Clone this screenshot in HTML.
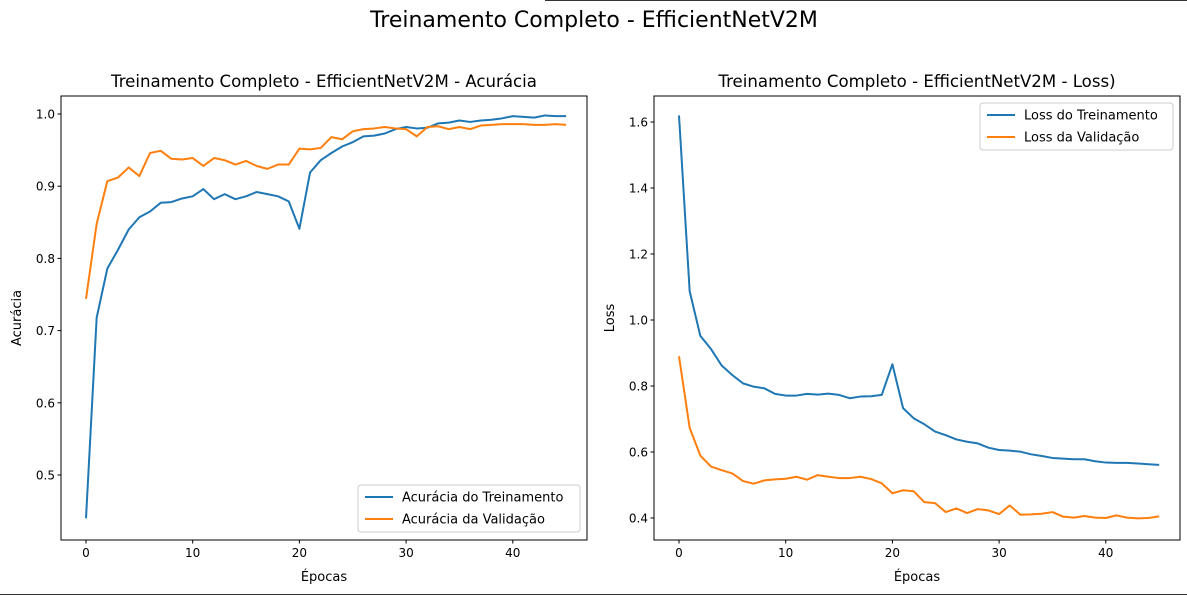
<!DOCTYPE html>
<html><head><meta charset="utf-8"><style>
body{margin:0;background:#fff;width:1187px;height:595px;overflow:hidden}
svg text{font-family:"DejaVu Sans","Liberation Sans",sans-serif;fill:#000}
</style></head><body>
<svg id="c" width="1187" height="595" xmlns="http://www.w3.org/2000/svg">
<line x1="545" y1="0.5" x2="1187" y2="0.5" stroke="#333"/>
<line x1="0" y1="594.5" x2="1187" y2="594.5" stroke="#333"/>
<text x="594" y="27" font-size="22" text-anchor="middle">Treinamento Completo - EfficientNetV2M</text>
</svg>
<script>
const epochs=[...Array(46).keys()];
const accTrain=[0.44,0.718,0.786,0.812,0.840,0.857,0.865,0.877,0.878,0.883,0.886,0.896,0.882,0.889,0.882,0.886,0.892,0.889,0.886,0.879,0.841,0.919,0.936,0.946,0.955,0.961,0.969,0.970,0.973,0.979,0.982,0.980,0.981,0.987,0.988,0.991,0.989,0.991,0.992,0.994,0.997,0.996,0.995,0.998,0.997,0.997];
const accVal=[0.744,0.848,0.907,0.912,0.926,0.914,0.946,0.949,0.938,0.937,0.939,0.928,0.939,0.936,0.930,0.935,0.928,0.924,0.930,0.930,0.952,0.951,0.953,0.968,0.965,0.976,0.979,0.980,0.982,0.980,0.979,0.969,0.982,0.983,0.979,0.982,0.979,0.984,0.985,0.986,0.986,0.986,0.985,0.985,0.986,0.985];
const lossTrain=[1.62,1.087,0.952,0.912,0.862,0.833,0.808,0.798,0.793,0.776,0.771,0.771,0.776,0.774,0.777,0.773,0.763,0.768,0.769,0.773,0.866,0.733,0.702,0.684,0.662,0.651,0.638,0.631,0.626,0.613,0.606,0.604,0.601,0.593,0.588,0.582,0.580,0.578,0.578,0.572,0.568,0.567,0.567,0.565,0.563,0.561];
const lossVal=[0.890,0.673,0.589,0.556,0.545,0.535,0.512,0.504,0.514,0.517,0.519,0.525,0.516,0.530,0.525,0.521,0.521,0.525,0.518,0.505,0.475,0.484,0.481,0.448,0.445,0.418,0.429,0.415,0.427,0.423,0.412,0.438,0.410,0.411,0.413,0.418,0.404,0.401,0.406,0.401,0.400,0.408,0.401,0.399,0.400,0.405];
const xTicks=[0,10,20,30,40];
const accTicks=[0.5,0.6,0.7,0.8,0.9,1.0];
const lossTicks=[0.4,0.6,0.8,1.0,1.2,1.4,1.6];
const svg=document.getElementById('c');const NS='http://www.w3.org/2000/svg';
function mk(t,a,txt){const e=document.createElementNS(NS,t);for(const k in a)e.setAttribute(k,a[k]);if(txt!==undefined)e.textContent=txt;svg.appendChild(e);return e;}
function panel(o){
 const x=e=>o.x0+e*10.67;
 const y=v=>o.yRef-(v-o.vRef)*o.ppu;
 xTicks.forEach(t=>{const l=mk('line',{x1:x(t),x2:x(t),y1:540,y2:543.5,stroke:'#000'});
 
 const tx=mk('text',{x:x(t),y:557,'font-size':12,'text-anchor':'middle'},String(t));
 });
 o.ticks.forEach(t=>{const l=mk('line',{x1:o.L-3.5,x2:o.L,y1:y(t),y2:y(t),stroke:'#000'});
 
 const tx=mk('text',{x:o.L-6,y:y(t)+4.5,'font-size':12,'text-anchor':'end'},t.toFixed(1));
 });
 [[o.s1,'#1f77b4',o.n1],[o.s2,'#ff7f0e',o.n2]].forEach(([s,c,n])=>{
  const p=mk('polyline',{points:s.map((v,i)=>x(epochs[i])+','+y(v)).join(' '),fill:'none',stroke:c,'stroke-width':2,'stroke-linejoin':'round'});
  });
 const r=mk('rect',{x:o.L,y:96,width:526,height:444,fill:'none',stroke:'#000','stroke-width':1});
 
 const ti=mk('text',{x:o.L+263,y:87,'font-size':16.6,'text-anchor':'middle'},o.title);
 
 const xl=mk('text',{x:o.L+263,y:581,'font-size':13,'text-anchor':'middle'},'Épocas');
 
 const yl=mk('text',{x:0,y:0,'font-size':13,'text-anchor':'middle',transform:`translate(${o.L-40},318) rotate(-90)`},o.ylab);
 
 const lg=mk('rect',{x:o.lx,y:o.ly,width:o.lw,height:47,rx:3,fill:'#fff','fill-opacity':0.8,stroke:'#ccc'});
 
 [[o.l1,'#1f77b4'],[o.l2,'#ff7f0e']].forEach(([t,c],i)=>{
  const ly=o.ly+12+i*22;
  const ln=mk('line',{x1:o.lx+7,x2:o.lx+35,y1:ly,y2:ly,stroke:c,'stroke-width':2});
  
  const lt=mk('text',{x:o.lx+44,y:ly+4.5,'font-size':13},t);
  });
}
panel({L:61,x0:86,yRef:114,vRef:1.0,ppu:722,ticks:accTicks,s1:accTrain,s2:accVal,n1:'train-accuracy-line',n2:'val-accuracy-line',title:'Treinamento Completo - EfficientNetV2M - Acurácia',ylab:'Acurácia',lx:358,ly:485,lw:222,l1:'Acurácia do Treinamento',l2:'Acurácia da Validação'});
panel({L:654,x0:679,yRef:518,vRef:0.4,ppu:330,ticks:lossTicks,s1:lossTrain,s2:lossVal,n1:'train-loss-line',n2:'val-loss-line',title:'Treinamento Completo - EfficientNetV2M - Loss)',ylab:'Loss',lx:980,ly:103,lw:193,l1:'Loss do Treinamento',l2:'Loss da Validação'});
</script>
</body></html>
